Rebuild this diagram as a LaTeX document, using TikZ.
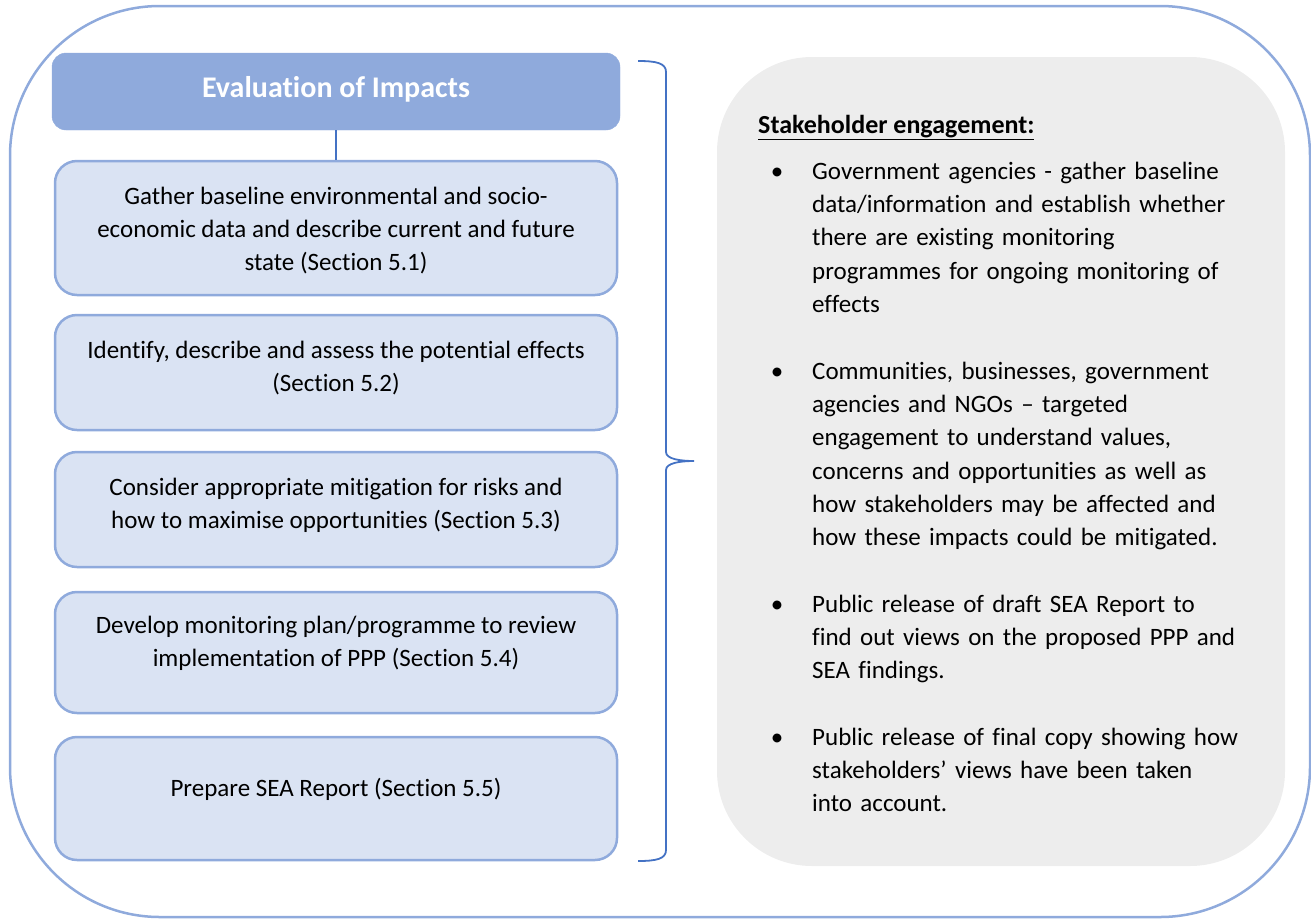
\documentclass[tikz,border=0pt]{standalone}
\usepackage{fontspec}
\setmainfont{Carlito}[Ligatures=NoCommon]
\definecolor{frameblue}{HTML}{8FAADC}
\definecolor{boxfill}{HTML}{DAE3F3}
\definecolor{darkblue}{HTML}{4472C4}
\definecolor{panelgray}{HTML}{EDEDED}
\tikzset{
  outerframe/.style={draw=frameblue, line width=2.5pt, rounded corners=150pt},
  headbox/.style={fill=frameblue, draw=frameblue, rounded corners=14pt, minimum width=568pt, minimum height=77pt, inner sep=0pt},
  stepbox/.style={fill=boxfill, draw=frameblue, line width=2.5pt, rounded corners=22pt, minimum width=562pt, inner sep=0pt},
  boxtext/.style={align=center, inner sep=0pt, font=\fontsize{25}{33}\selectfont},
  conn/.style={draw=darkblue, line width=1.3pt},
  bracketline/.style={draw=darkblue, line width=1.8pt},
  graypanel/.style={fill=panelgray, draw=none, rounded corners=95pt, minimum width=568pt, minimum height=809pt, inner sep=0pt},
  para/.style={anchor=north west, inner sep=0pt, text width=470pt, align=left, font=\fontsize{25}{33.3}\selectfont},
  bul/.style={anchor=north, inner sep=0pt, font=\fontsize{25}{33.3}\selectfont},
}
\begin{document}
\begin{tikzpicture}[x=1pt,y=-1pt]
\useasboundingbox (0,0) rectangle (1311,919);
% outer frame
\draw[outerframe] (10,6) rectangle (1310,917);
% header
\node[headbox] (hdr) at (336,91.5) {};
\node[font=\fontsize{30}{36}\selectfont\bfseries, text=white, inner sep=0pt] (hdrtext) at (336,89) {Evaluation of Impacts};
% step boxes
\node[stepbox, minimum height=134pt] (b1) at (336,228) {};
\node[stepbox, minimum height=115pt] (b2) at (336,372.5) {};
\node[stepbox, minimum height=115pt] (b3) at (336,509.5) {};
\node[stepbox, minimum height=121pt] (b4) at (336,652.5) {};
\node[stepbox, minimum height=123pt] (b5) at (336,798.5) {};
\draw[conn] (hdr.south) -- (b1.north);
\node[boxtext] (t1) at (336,231) {Gather baseline environmental and socio-\\economic data and describe current and future\\state (Section 5.1)};
\node[boxtext] (t2) at (336,368) {Identify, describe and assess the potential effects\\(Section 5.2)};
\node[boxtext] (t3) at (336,505) {Consider appropriate mitigation for risks and\\how to maximise opportunities (Section 5.3)};
\node[boxtext] (t4) at (336,643) {Develop monitoring plan/programme to review\\implementation of PPP (Section 5.4)};
\node[boxtext] (t5) at (336,789) {Prepare SEA Report (Section 5.5)};
% bracket
\draw[bracketline] (638,61) .. controls (656,61) and (666,63) .. (666,72)
  -- (666,452) .. controls (666,459) and (680,461) .. (694,461)
  .. controls (680,461) and (666,463) .. (666,470)
  -- (666,850) .. controls (666,859) and (656,861) .. (638,861);
% right panel
\node[graypanel] (panel) at (1001,461.5) {};
\node[anchor=base west, inner sep=0pt, font=\fontsize{26}{34}\selectfont\bfseries] (shead) at (758,133.5) {\underline{Stakeholder engagement:}};
\node[bul] (bu1) at (777,155.7) {\strut\textbullet};
\node[para] (p1) at (812,155.7) {\strut Government agencies - gather baseline\\data/information and establish whether\\there are existing monitoring\\programmes for ongoing monitoring of\\effects};
\node[bul] (bu2) at (777,355.7) {\strut\textbullet};
\node[para] (p2) at (812,355.7) {\strut Communities, businesses, government\\agencies and NGOs – targeted\\engagement to understand values,\\concerns and opportunities as well as\\how stakeholders may be affected and\\how these impacts could be mitigated.};
\node[bul] (bu3) at (777,588.7) {\strut\textbullet};
\node[para] (p3) at (812,588.7) {\strut Public release of draft SEA Report to\\find out views on the proposed PPP and\\SEA findings.};
\node[bul] (bu4) at (777,721.7) {\strut\textbullet};
\node[para] (p4) at (812,721.7) {\strut Public release of final copy showing how\\stakeholders’ views have been taken\\into account.};
\end{tikzpicture}
\end{document}
